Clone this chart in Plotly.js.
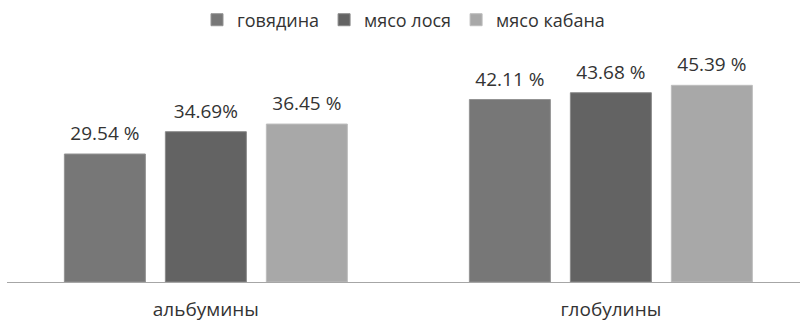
<!DOCTYPE html>
<html>
<head>
<meta charset="utf-8">
<script src="https://cdn.plot.ly/plotly-3.0.1.min.js"></script>
<style>html,body{margin:0;padding:0;background:#fff;}#chart{width:802px;height:323px;}</style>
</head>
<body>
<div id="chart"></div>
<script>
const categories = ['альбумины', 'глобулины'];
const seriesNames = ['говядина', 'мясо лося', 'мясо кабана'];
const beef = [29.54, 42.11];
const moose = [34.69, 43.68];
const boar = [36.45, 45.39];
const labelsBeef = ['29.54 %', '42.11 %'];
const labelsMoose = ['34.69%', '43.68 %'];
const labelsBoar = ['36.45 %', '45.39 %'];

const colors = ['#777777', '#636363', '#a8a8a8'];
const lineColors = ['#939393', '#8a8a8a', '#bdbdbd'];
const values = [beef, moose, boar];
const labels = [labelsBeef, labelsMoose, labelsBoar];
const FONT = 'Open Sans, Noto Sans, sans-serif';

const traces = [];
values.forEach((v, i) => {
  traces.push({
    type: 'bar', x: categories, y: v, name: seriesNames[i],
    offsetgroup: String(i), alignmentgroup: 'a',
    marker: {color: colors[i], line: {color: lineColors[i], width: 1}},
    hoverinfo: 'skip'
  });
});
values.forEach((v, i) => {
  traces.push({
    type: 'scatter', mode: 'markers+text', x: categories, y: v,
    text: labels[i], textposition: 'top center',
    textfont: {family: FONT, size: 19, color: '#333333'},
    marker: {size: 13, color: 'rgba(0,0,0,0)'},
    offsetgroup: String(i), alignmentgroup: 'a',
    showlegend: false, hoverinfo: 'skip', cliponaxis: false
  });
});

const layout = {
  width: 802, height: 323,
  margin: {l: 7, r: 2, t: 65, b: 41},
  paper_bgcolor: '#ffffff', plot_bgcolor: '#ffffff',
  barmode: 'group', bargap: 0.252, bargroupgap: 0.198,
  scattermode: 'group', scattergap: 0.252,
  showlegend: true,
  legend: {orientation: 'h', x: 0.5, xanchor: 'center', y: 0.938, yref: 'container', yanchor: 'middle',
           font: {family: FONT, size: 18, color: '#333333'}, traceorder: 'normal'},
  xaxis: {type: 'category', range: [-0.491, 1.467], showline: true, linecolor: '#a6a6a6', linewidth: 1,
          ticks: '', showgrid: false, zeroline: false, ticklabelstandoff: 10,
          tickfont: {family: FONT, size: 19, color: '#333333'}},
  yaxis: {range: [0, 50.08], visible: false, showgrid: false, zeroline: false},
  font: {family: FONT}
};
Plotly.newPlot('chart', traces, layout, {displayModeBar: false, staticPlot: true});
</script>
</body>
</html>
